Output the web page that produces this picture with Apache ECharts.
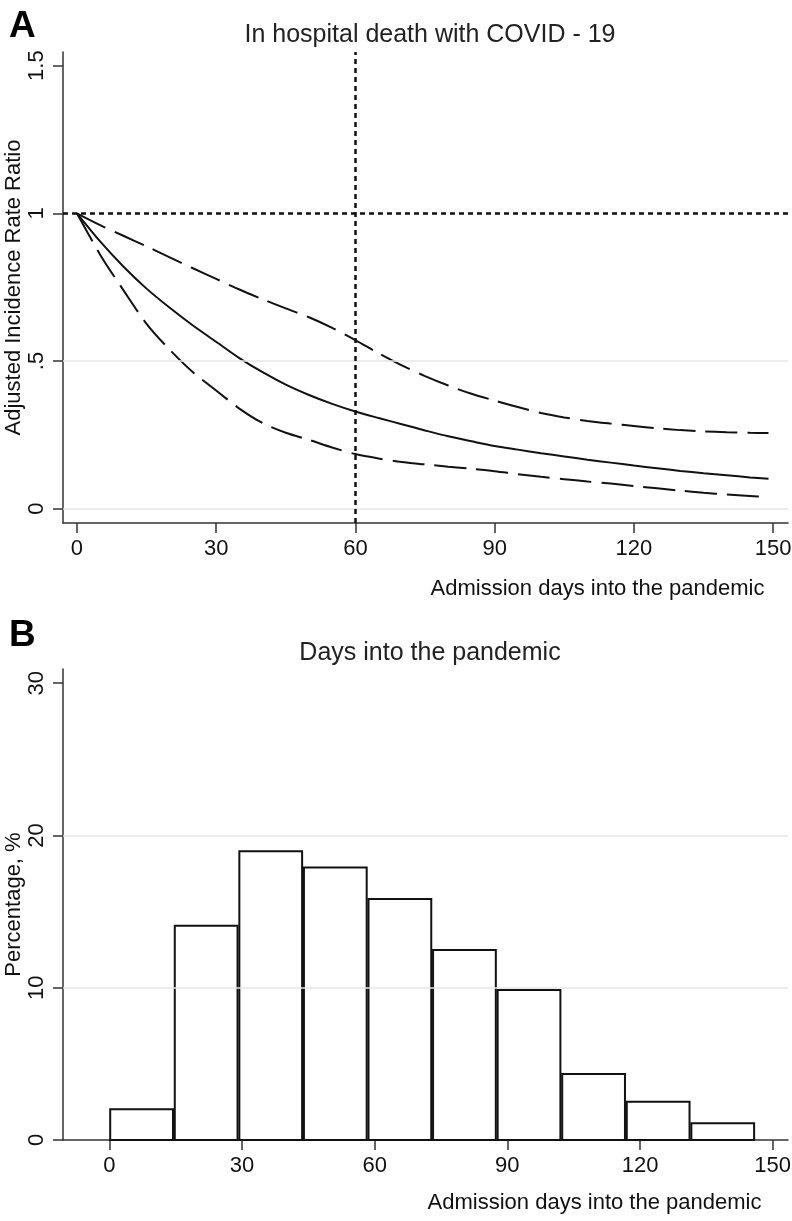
<!DOCTYPE html>
<html>
<head>
<meta charset="utf-8">
<script src="https://cdn.jsdelivr.net/npm/echarts@6/dist/echarts.min.js"></script>
<style>
html,body{margin:0;padding:0;background:#fff;}
#chart{width:792px;height:1221px;}
</style>
</head>
<body>
<div id="chart"></div>
<script>
// ---- Panel A: adjusted incidence rate ratio curves ----
const days = [0, 5, 10, 15, 20, 25, 30, 35, 40, 45, 50, 55, 60, 65, 70, 75, 80, 85, 90, 95, 100, 105, 110, 115, 120, 125, 130, 135, 140, 145, 149];
const irrEstimate = [1.0, 0.905, 0.82, 0.745, 0.68, 0.62, 0.565, 0.51, 0.462, 0.42, 0.385, 0.355, 0.329, 0.307, 0.286, 0.265, 0.245, 0.228, 0.212, 0.20, 0.188, 0.177, 0.166, 0.156, 0.146, 0.137, 0.128, 0.12, 0.113, 0.106, 0.101];
const irrUpper = [1.0, 0.96, 0.924, 0.888, 0.851, 0.814, 0.778, 0.742, 0.709, 0.678, 0.648, 0.612, 0.571, 0.526, 0.485, 0.449, 0.417, 0.389, 0.366, 0.344, 0.324, 0.309, 0.297, 0.288, 0.280, 0.272, 0.266, 0.262, 0.259, 0.257, 0.256];
const irrLower = [1.0, 0.86, 0.74, 0.626, 0.538, 0.462, 0.40, 0.339, 0.29, 0.257, 0.233, 0.207, 0.185, 0.170, 0.158, 0.150, 0.142, 0.135, 0.127, 0.117, 0.108, 0.100, 0.092, 0.085, 0.077, 0.069, 0.061, 0.054, 0.048, 0.043, 0.039];
const refRatio = 1;
const refDay = 60;
const xTicksA = [0, 30, 60, 90, 120, 150];
const yTicksA = [0, 0.5, 1, 1.5];
const yTickLabelsA = ['0', '.5', '1', '1.5'];
const gridLinesA = [0, 0.5];

// ---- Panel B: histogram of admission days ----
const binStarts = [0, 14.6, 29.2, 43.8, 58.4, 73, 87.6, 102.2, 116.8, 131.4];
const binEnds = [14.6, 29.2, 43.8, 58.4, 73, 87.6, 102.2, 116.8, 131.4, 146];
const binPercent = [2.02, 14.07, 18.97, 17.9, 15.82, 12.47, 9.85, 4.33, 2.52, 1.10];
const xTicksB = [0, 30, 60, 90, 120, 150];
const yTicksB = [0, 10, 20, 30];
const gridLinesB = [10, 20];

const FONT = "'Liberation Sans', Arial, sans-serif";
const INK = '#111';
const AXIS = '#333';

const chart = echarts.init(document.getElementById('chart'), null, {renderer: 'canvas'});

function pairs(xs, ys) { return xs.map((x, i) => [x, ys[i]]); }

const axisCommon = {
  axisLine: {show: true, onZero: false, lineStyle: {color: AXIS, width: 1.5}},
  splitLine: {show: false},
  nameMoveOverlap: false,
  nameTextStyle: {fontFamily: FONT, fontSize: 22, color: INK}
};

const option = {
  backgroundColor: '#fff',
  animation: false,
  title: [
    {text: 'In hospital death with COVID - 19', left: 425, top: 18, textAlign: 'center',
     textStyle: {fontFamily: FONT, fontSize: 25, fontWeight: 'normal', color: '#222'}},
    {text: 'Days into the pandemic', left: 425, top: 636, textAlign: 'center',
     textStyle: {fontFamily: FONT, fontSize: 25, fontWeight: 'normal', color: '#222'}}
  ],
  graphic: [
    {type: 'text', left: 9, top: 8, style: {text: 'A', font: "bold 37px 'Liberation Sans', Arial", fill: '#000'}},
    {type: 'text', left: 9, top: 617, style: {text: 'B', font: "bold 37px 'Liberation Sans', Arial", fill: '#000'}}
  ],
  grid: [
    {left: 63, right: 4, top: 52, height: 471, containLabel: false, outerBoundsMode: 'none'},
    {left: 63, right: 4, top: 669, height: 471, containLabel: false, outerBoundsMode: 'none'}
  ],
  xAxis: [
    Object.assign({}, axisCommon, {
      type: 'value', gridIndex: 0, min: -3, max: 153.2,
      name: 'Admission days into the pandemic', nameLocation: 'middle', nameGap: 55,
      nameTextStyle: {fontFamily: FONT, fontSize: 22, color: INK, padding: [0, 0, 0, 344]},
      axisTick: {show: true, length: 10, customValues: xTicksA, lineStyle: {color: AXIS, width: 1.5}},
      axisLabel: {customValues: xTicksA, margin: 15, fontFamily: FONT, fontSize: 22, color: INK}
    }),
    Object.assign({}, axisCommon, {
      type: 'value', gridIndex: 1, min: -10.47, max: 153.46,
      name: 'Admission days into the pandemic', nameLocation: 'middle', nameGap: 52,
      nameTextStyle: {fontFamily: FONT, fontSize: 22, color: INK, padding: [0, 0, 0, 338]},
      axisTick: {show: true, length: 10, customValues: xTicksB, lineStyle: {color: AXIS, width: 1.5}},
      axisLabel: {customValues: xTicksB, margin: 15, fontFamily: FONT, fontSize: 22, color: INK}
    })
  ],
  yAxis: [
    Object.assign({}, axisCommon, {
      type: 'value', gridIndex: 0, min: -0.0484, max: 1.546,
      name: 'Adjusted Incidence Rate Ratio', nameLocation: 'middle', nameGap: 38,
      axisTick: {show: true, length: 10, customValues: yTicksA, lineStyle: {color: AXIS, width: 1.5}},
      axisLabel: {customValues: yTicksA, rotate: 90, margin: 15, fontFamily: FONT, fontSize: 22, color: INK,
        formatter: v => { const i = yTicksA.findIndex(t => Math.abs(t - v) < 1e-9); return i >= 0 ? yTickLabelsA[i] : ''; }}
    }),
    Object.assign({}, axisCommon, {
      type: 'value', gridIndex: 1, min: 0, max: 30.93,
      name: 'Percentage, %', nameLocation: 'middle', nameGap: 38,
      axisTick: {show: true, length: 10, customValues: yTicksB, lineStyle: {color: AXIS, width: 1.5}},
      axisLabel: {customValues: yTicksB, rotate: 90, margin: 15, fontFamily: FONT, fontSize: 22, color: INK}
    })
  ],
  series: [
    {type: 'line', xAxisIndex: 0, yAxisIndex: 0, data: [], z: 1, silent: true,
     markLine: {silent: true, symbol: 'none', label: {show: false},
       lineStyle: {color: '#e6e6e6', width: 1.5, type: 'solid'},
       data: gridLinesA.map(v => ({yAxis: v}))}},
    {type: 'line', xAxisIndex: 0, yAxisIndex: 0, data: [], z: 3, silent: true,
     markLine: {silent: true, symbol: 'none', label: {show: false},
       lineStyle: {color: INK, width: 2.5, type: [5, 4]},
       data: [{yAxis: refRatio}, {xAxis: refDay}]}},
    {name: 'upper', type: 'line', xAxisIndex: 0, yAxisIndex: 0, smooth: 0.3, symbol: 'none', z: 4,
     lineStyle: {color: INK, width: 2, type: [32, 10]}, data: pairs(days, irrUpper)},
    {name: 'estimate', type: 'line', xAxisIndex: 0, yAxisIndex: 0, smooth: 0.3, symbol: 'none', z: 4,
     lineStyle: {color: INK, width: 2}, data: pairs(days, irrEstimate)},
    {name: 'lower', type: 'line', xAxisIndex: 0, yAxisIndex: 0, smooth: 0.3, symbol: 'none', z: 4,
     lineStyle: {color: INK, width: 2, type: [32, 10]}, data: pairs(days, irrLower)},
    {type: 'line', xAxisIndex: 1, yAxisIndex: 1, data: [], z: 1, silent: true,
     markLine: {silent: true, symbol: 'none', label: {show: false},
       lineStyle: {color: '#e6e6e6', width: 1.5, type: 'solid'},
       data: gridLinesB.map(v => ({yAxis: v}))}},
    {name: 'histogram', type: 'custom', xAxisIndex: 1, yAxisIndex: 1, z: 4,
     encode: {x: [0, 1], y: 2},
     data: binStarts.map((s, i) => [s, binEnds[i], binPercent[i]]),
     renderItem: function (params, api) {
       const tl = api.coord([api.value(0), api.value(2)]);
       const br = api.coord([api.value(1), 0]);
       return {type: 'rect',
         shape: {x: tl[0] + 0.9, y: tl[1], width: br[0] - tl[0] - 1.8, height: br[1] - tl[1]},
         style: {fill: '#fff', stroke: INK, lineWidth: 2}};
     }}
  ]
};
chart.setOption(option);
</script>
</body>
</html>
